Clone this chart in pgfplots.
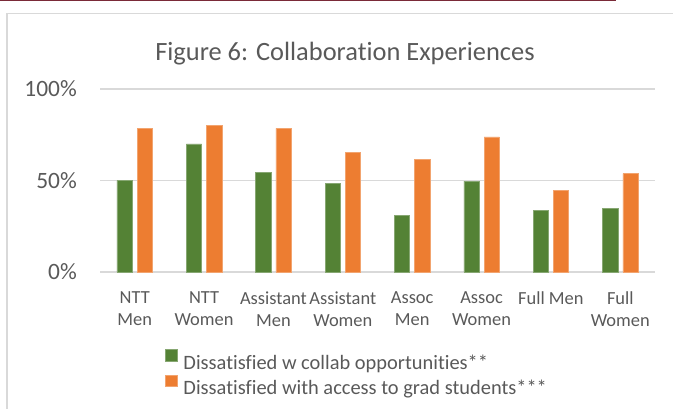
\documentclass[border=0pt]{standalone}
\usepackage{fontspec}
\setmainfont{Carlito}[RawFeature={-liga;-clig;-dlig;-calt}]
\usepackage{pgfplots}
\pgfplotsset{compat=1.18}
\definecolor{cgreen}{HTML}{548235}
\definecolor{corange}{HTML}{ED7D31}
\definecolor{cgrid}{HTML}{D9D9D9}
\definecolor{ctext}{HTML}{595959}
\definecolor{cmaroon}{HTML}{7A2A38}
\begin{document}
\begin{tikzpicture}
\draw[cmaroon, line width=1.3bp] (0bp,-0.65bp) -- (616bp,-0.65bp);
\draw[cgrid, line width=1.3bp] (690bp,-13.6bp) -- (7bp,-13.6bp) -- (7bp,-430bp);
\node[font=\fontsize{26.5}{30}\selectfont, text=ctext, inner sep=0pt, anchor=base] at (345bp,-60bp) {Figure 6: Collaboration Experiences};
\begin{axis}[
  at={(100bp,-272bp)}, anchor=south west,
  scale only axis, width=555bp, height=183bp,
  xmin=-0.5, xmax=7.5, ymin=0, ymax=100,
  axis line style={draw=none},
  ybar=4.9bp, bar width=15.3bp,
  ytick={0,50,100}, yticklabels={0\%,50\%,100\%},
  xtick={0,...,7},
  xticklabels={NTT\\Men, NTT\\Women, Assistant\\Men, Assistant\\Women, Assoc\\Men, Assoc\\Women, Full Men, Full\\Women},
  major tick length=0pt,
  xtick style={draw=none}, ytick style={draw=none},
  ymajorgrids, grid style={cgrid, line width=1.1bp},
  /pgf/number format/assume math mode=true,
  yticklabel style={font=\fontsize{23.5}{27}\selectfont, text=ctext, anchor=east, inner sep=0pt, xshift=-23bp},
  xticklabel style={font=\fontsize{18.5}{21.7}\selectfont, text=ctext, align=center, anchor=north, inner sep=0pt, yshift=-19.7bp},
  legend style={at={(axis description cs:0.1171,-0.4208)}, anchor=north west, draw=none, fill=none,
    inner sep=0pt, outer sep=0pt, font=\fontsize{20.5}{24}\selectfont, text=ctext,
    nodes={inner sep=0pt}, column sep=6bp, row sep=4bp},
  legend cell align=left,
  legend image code/.code={\fill[#1] (0bp,1.6bp) rectangle (12bp,13.4bp);},
]
\addplot[fill=cgreen, draw=cgreen!70!white, line width=0.5bp] coordinates {(0,50) (1,70) (2,54.5) (3,48.3) (4,30.8) (5,49.7) (6,33.7) (7,34.8)};
\addlegendentry{Dissatisfied w collab opportunities**}
\addplot[fill=corange, draw=corange!70!white, line width=0.5bp] coordinates {(0,78.5) (1,80) (2,78.5) (3,65.4) (4,61.6) (5,73.8) (6,44.6) (7,53.7)};
\addlegendentry{Dissatisfied with access to grad students***}
\end{axis}
\pgfresetboundingbox
\path[use as bounding box] (0bp,0bp) rectangle (673bp,-409bp);
\end{tikzpicture}
\end{document}
